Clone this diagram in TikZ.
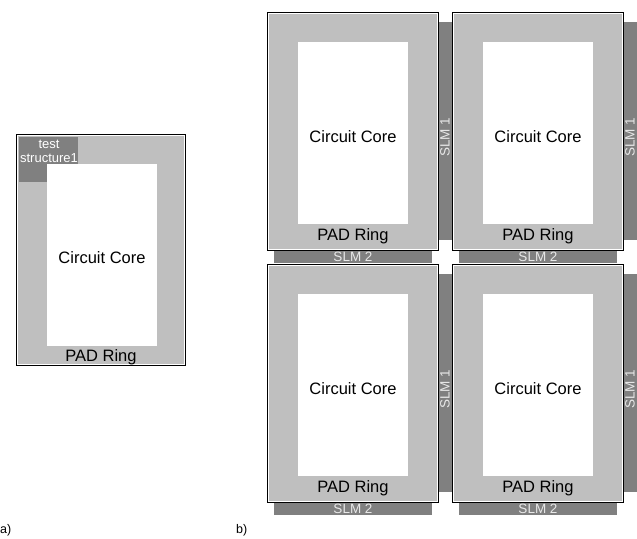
\documentclass[tikz,border=0pt]{standalone}
\usepackage{fontspec}
\setmainfont{Liberation Sans}
\definecolor{padgray}{HTML}{BFBFBF}
\definecolor{slmgray}{HTML}{808080}
\definecolor{slmtext}{HTML}{E8E8E8}
\newcommand\mychip[3]{%
  \node[outerbox, minimum width=171pt, minimum height=238pt] (#1) at (#2,#3) {};
  \node[ringbox, minimum width=168pt, minimum height=235pt] (#1ring) at (#2+1.5,#3+1.5) {};
  \node[corebox, minimum width=110pt, minimum height=182pt] (#1core) at (#2+31,#3+30) {};
  \node[maintext] (#1cc) at (#2+86,#3+130) {Circuit Core};
  \node[maintext] (#1pad) at (#2+86,#3+228) {PAD Ring};
}
\newcommand\myslm[3]{%
  \node[slmbox, minimum width=14pt, minimum height=218pt] (#1one) at (#2+171,#3+10) {};
  \node[slmlabel, rotate=90, anchor=center] (#1onet) at (#2+178,#3+125) {SLM 1};
  \node[slmbox, minimum width=158pt, minimum height=13pt] (#1two) at (#2+7,#3+238) {};
  \node[slmlabel, anchor=center] (#1twot) at (#2+86,#3+244.5) {SLM 2};
}
\begin{document}
\begin{tikzpicture}[x=1pt,y=-1pt,
  box/.style={rectangle, inner sep=0pt, outer sep=0pt, anchor=north west},
  outerbox/.style={box, draw=black, line width=1pt, fill=white},
  ringbox/.style={box, fill=padgray},
  corebox/.style={box, fill=white},
  slmbox/.style={box, fill=slmgray},
  maintext/.style={inner sep=0pt, anchor=base, font=\fontsize{16.5}{19}\selectfont},
  slmlabel/.style={inner sep=0pt, text=slmtext, font=\fontsize{13.5}{15}\selectfont},
  paneltext/.style={inner sep=0pt, anchor=base west, font=\fontsize{12.5}{15}\selectfont}]
\useasboundingbox (0,0) rectangle (637,538);
% panel a
\node[outerbox, minimum width=169pt, minimum height=231pt] (A) at (16,134) {};
\node[ringbox, minimum width=166pt, minimum height=228pt] (Aring) at (17.5,135.5) {};
\node[slmbox, minimum width=59pt, minimum height=45pt] (Atest) at (19,137) {};
\node[corebox, minimum width=110pt, minimum height=182pt] (Acore) at (47,164) {};
\node[inner sep=0pt, text=white, align=center, font=\fontsize{13}{14}\selectfont, anchor=center] (Atestt) at (49,151) {test\\structure1};
\node[maintext] (Acc) at (102,263) {Circuit Core};
\node[maintext] (Apad) at (101,361) {PAD Ring};
% panel b
\myslm{s11}{267}{12}
\myslm{s12}{452}{12}
\myslm{s21}{267}{264}
\myslm{s22}{452}{264}
\mychip{c11}{267}{12}
\mychip{c12}{452}{12}
\mychip{c21}{267}{264}
\mychip{c22}{452}{264}
\node[paneltext] (la) at (0,533) {a)};
\node[paneltext] (lb) at (236,533) {b)};
\end{tikzpicture}
\end{document}
